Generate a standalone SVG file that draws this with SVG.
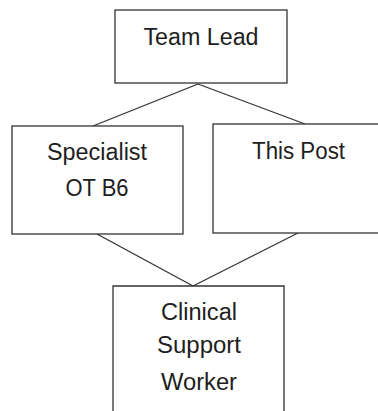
<svg xmlns="http://www.w3.org/2000/svg" width="378" height="411" viewBox="0 0 378 411">
<style>
.box{fill:#fff;stroke:#333;stroke-width:1.3}
.conn{fill:none;stroke:#333;stroke-width:1.3}
text{font-family:"Liberation Sans",Arial,sans-serif;font-size:23px;fill:#1e1e1e;text-anchor:middle}
</style>
<rect width="378" height="411" fill="#fff"/>
<g id="connectors">
<line class="conn" x1="198" y1="84" x2="93" y2="126"/>
<line class="conn" x1="198" y1="84" x2="305" y2="124"/>
<line class="conn" x1="97" y1="234" x2="193" y2="286"/>
<line class="conn" x1="298" y1="233" x2="193" y2="286"/>
</g>
<g id="team-lead">
<rect class="box" x="115" y="10" width="172" height="73"/>
<text x="201" y="45" textLength="115" lengthAdjust="spacingAndGlyphs">Team Lead</text>
</g>
<g id="specialist-ot">
<rect class="box" x="12" y="126" width="171" height="108"/>
<text x="97" y="160" textLength="100" lengthAdjust="spacingAndGlyphs">Specialist</text>
<text x="97" y="196" textLength="63" lengthAdjust="spacingAndGlyphs">OT B6</text>
</g>
<g id="this-post">
<rect class="box" x="213" y="124" width="175" height="109"/>
<text x="298.5" y="159" textLength="93" lengthAdjust="spacingAndGlyphs">This Post</text>
</g>
<g id="clinical-support-worker">
<path class="box" d="M113 412 V286 H284 V412"/>
<text x="199" y="320" textLength="76" lengthAdjust="spacingAndGlyphs">Clinical</text>
<text x="199" y="353" textLength="84" lengthAdjust="spacingAndGlyphs">Support</text>
<text x="199" y="390" textLength="76" lengthAdjust="spacingAndGlyphs">Worker</text>
</g>
</svg>
